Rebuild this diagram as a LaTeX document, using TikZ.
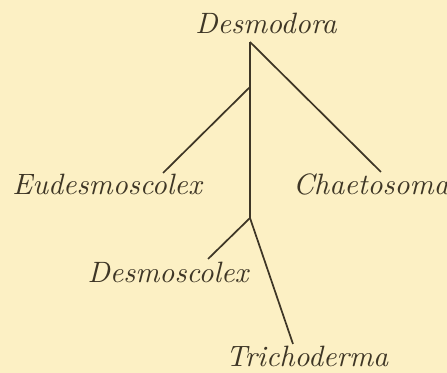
\documentclass[tikz,border=0pt]{standalone}
\usepackage{tikz}
\usetikzlibrary{positioning}
\definecolor{paper}{RGB}{252,240,196}
\definecolor{ink}{RGB}{62,54,38}

\begin{document}
\begin{tikzpicture}[
    x=0.35pt,y=-0.35pt,
    taxon/.style={inner sep=0pt,anchor=base,text=ink,font=\fontsize{10.3}{12}\selectfont\itshape},
    branch/.style={draw=ink,line width=0.6pt}]
  \fill[paper] (0,0) rectangle (447,373);
  \useasboundingbox (0,0) rectangle (447,373);
  \node[taxon] (desmodora) at (266,34) {Desmodora};
  \node[taxon] (eudesmo) at (107,195) {Eudesmoscolex};
  \node[taxon] (chaeto) at (371,195) {Chaetosoma};
  \node[taxon] (desmosc) at (168,283) {Desmoscolex};
  \node[taxon] (tricho) at (307,367) {Trichoderma};
  % junctions and line ends
  \coordinate (top) at (250,42);
  \coordinate (fork1) at (250,87);
  \coordinate (fork2) at (250,218);
  \coordinate (eudesmo-end) at (163,173);
  \coordinate (chaeto-end) at (381,172);
  \coordinate (desmosc-end) at (208,259);
  \coordinate (tricho-end) at (293,344);
  \draw[branch] (top) -- (fork2);
  \draw[branch] (top) -- (chaeto-end);
  \draw[branch] (fork1) -- (eudesmo-end);
  \draw[branch] (fork2) -- (desmosc-end);
  \draw[branch] (fork2) -- (tricho-end);
\end{tikzpicture}
\end{document}
